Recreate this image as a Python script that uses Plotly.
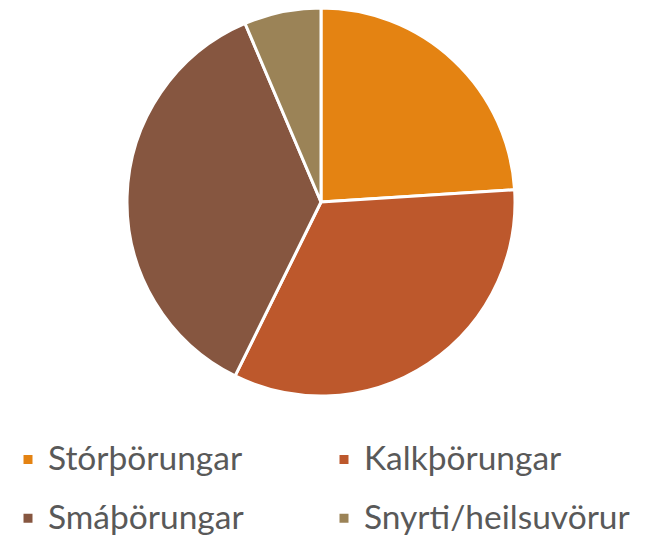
import plotly.graph_objects as go

labels = ["Stórþörungar", "Kalkþörungar", "Smáþörungar", "Snyrti/heilsuvörur"]
values = [24.0, 33.3, 36.3, 6.4]
colors = ["#E48312", "#BD582C", "#865640", "#9B8357"]

W, H = 653, 537
OFF = 8  # page body margin offset

# legend rows are spaced by the legend font size; the visible text is set smaller
legend_labels = [
    f"<span style='font-size:33.5px;baseline-shift:6px'>{lab}</span>" for lab in labels
]

fig = go.Figure(go.Pie(
    labels=legend_labels,
    values=values,
    sort=False,
    direction="clockwise",
    rotation=0,
    marker=dict(colors=colors, line=dict(color="white", width=3)),
    textinfo="none",
    hoverinfo="percent",
    domain=dict(x=[(126 - OFF) / W, (516 - OFF) / W], y=[1 - (396 - OFF) / H, 1]),
))

fig.update_layout(
    width=W, height=H,
    margin=dict(l=0, r=0, t=0, b=0, autoexpand=False),
    paper_bgcolor="white",
    plot_bgcolor="white",
    showlegend=True,
    legend=dict(
        orientation="h",
        x=0.0, y=1 - 417 / H, xanchor="left", yanchor="top",
        entrywidth=271, entrywidthmode="pixels",
        font=dict(family="Lato, Open Sans, sans-serif", size=43, color="#595959"),
        traceorder="normal",
        bgcolor="rgba(0,0,0,0)",
    ),
)

fig.write_html("out.html")
